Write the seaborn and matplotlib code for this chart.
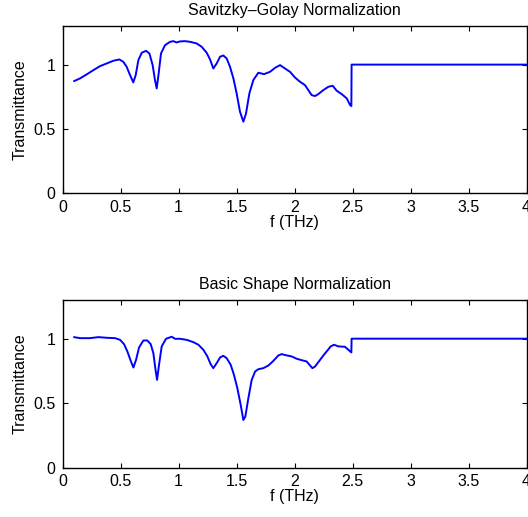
import numpy as np
import pandas as pd
import matplotlib
matplotlib.use("Agg")
import matplotlib.pyplot as plt
import seaborn as sns

# Savitzky-Golay normalized transmittance
sg_f = [0.099, 0.151, 0.208, 0.266, 0.323, 0.381, 0.438, 0.49, 0.524, 0.553, 0.582, 0.61,
        0.631, 0.654, 0.683, 0.72, 0.749, 0.777, 0.797, 0.812, 0.829, 0.849, 0.884, 0.927,
        0.955, 0.984, 1.013, 1.056, 1.099, 1.157, 1.2, 1.243, 1.272, 1.3, 1.329, 1.358,
        1.386, 1.415, 1.444, 1.473, 1.501, 1.53, 1.559, 1.582, 1.611, 1.645, 1.688, 1.737,
        1.789, 1.832, 1.875, 1.918, 1.961, 2.004, 2.047, 2.09, 2.119, 2.148, 2.177, 2.205,
        2.248, 2.292, 2.329, 2.364, 2.407, 2.45, 2.479, 2.49, 2.492, 3.0, 4.0]
sg_t = [0.872, 0.893, 0.924, 0.957, 0.988, 1.009, 1.03, 1.04, 1.022, 0.983, 0.919, 0.862,
        0.919, 1.035, 1.092, 1.107, 1.087, 0.996, 0.88, 0.815, 0.932, 1.087, 1.151, 1.177,
        1.182, 1.172, 1.18, 1.182, 1.177, 1.164, 1.138, 1.092, 1.04, 0.97, 1.009, 1.061,
        1.071, 1.048, 0.983, 0.893, 0.777, 0.634, 0.557, 0.621, 0.777, 0.88, 0.937, 0.926,
        0.944, 0.975, 0.996, 0.97, 0.944, 0.90, 0.867, 0.841, 0.802, 0.763, 0.756, 0.771,
        0.802, 0.828, 0.836, 0.797, 0.771, 0.738, 0.686, 0.678, 1.0, 1.0, 1.0]

# Basic shape normalized transmittance
bs_f = [0.099, 0.151, 0.237, 0.309, 0.381, 0.453, 0.496, 0.53, 0.559, 0.588, 0.611, 0.634,
        0.66, 0.697, 0.731, 0.76, 0.783, 0.8, 0.815, 0.832, 0.855, 0.892, 0.941, 0.97,
        1.013, 1.07, 1.128, 1.171, 1.214, 1.249, 1.277, 1.3, 1.329, 1.358, 1.386, 1.415,
        1.45, 1.478, 1.507, 1.536, 1.559, 1.576, 1.602, 1.631, 1.66, 1.688, 1.731, 1.775,
        1.818, 1.861, 1.889, 1.933, 1.976, 2.019, 2.062, 2.105, 2.134, 2.154, 2.177, 2.214,
        2.249, 2.277, 2.312, 2.34, 2.378, 2.435, 2.464, 2.49, 2.492, 3.0, 4.0]
bs_t = [1.012, 1.004, 1.004, 1.012, 1.007, 1.004, 0.991, 0.958, 0.901, 0.828, 0.776, 0.836,
        0.932, 0.986, 0.986, 0.958, 0.888, 0.771, 0.68, 0.797, 0.94, 0.999, 1.015, 0.999,
        0.999, 0.991, 0.973, 0.953, 0.914, 0.862, 0.802, 0.771, 0.81, 0.854, 0.867, 0.849,
        0.797, 0.719, 0.616, 0.486, 0.369, 0.395, 0.538, 0.68, 0.745, 0.763, 0.771, 0.792,
        0.828, 0.87, 0.88, 0.87, 0.862, 0.844, 0.833, 0.823, 0.792, 0.771, 0.784, 0.828,
        0.87, 0.901, 0.94, 0.953, 0.94, 0.937, 0.914, 0.893, 1.0, 1.0, 1.0]

titles = ["Savitzky\u2013Golay Normalization", "Basic Shape Normalization"]
xticks = [0, 0.5, 1, 1.5, 2, 2.5, 3, 3.5, 4]
xtick_labels = ["0", "0.5", "1", "1.5", "2", "2.5", "3", "3.5", "4"]
yticks = [0, 0.5, 1]
ytick_labels = ["0", "0.5", "1"]

sns.set_theme(style="white")
plt.rcParams['font.family'] = ['Liberation Sans', 'DejaVu Sans']
plt.rcParams['xtick.direction'] = 'in'
plt.rcParams['ytick.direction'] = 'in'
plt.rcParams['text.color'] = 'black'
plt.rcParams['axes.labelcolor'] = 'black'

fig = plt.figure(figsize=(5.28, 5.17), dpi=100)
ax1 = fig.add_axes([0.1184, 0.6258, 0.8788, 0.324])
ax2 = fig.add_axes([0.1184, 0.0957, 0.8788, 0.324])

for ax, f, t, title in [(ax1, sg_f, sg_t, titles[0]), (ax2, bs_f, bs_t, titles[1])]:
    df = pd.DataFrame({"f": f, "T": t})
    sns.lineplot(data=df, x="f", y="T", ax=ax, color="#0000ff", linewidth=1.4,
                 sort=False, estimator=None)
    ax.set_xlim(0, 4)
    ax.set_ylim(0, 1.3)
    ax.set_xticks(xticks)
    ax.set_xticklabels(xtick_labels)
    ax.set_yticks(yticks)
    ax.set_yticklabels(ytick_labels)
    ax.tick_params(axis='both', which='both', direction='in', length=3.5, width=0.8,
                   top=True, right=True, bottom=True, left=True, labelsize=11.5,
                   colors='black', pad=5)
    for s in ax.spines.values():
        s.set_visible(True)
        s.set_color('black')
        s.set_linewidth(1.0)
    ax.set_xlabel("f (THz)", fontsize=11.5, labelpad=0, color='black')
    ax.set_ylabel("Transmittance", fontsize=11.5, labelpad=4, color='black')
    ax.set_title(title, fontsize=11.5, pad=8, color='black')
    ax.grid(False)

fig.savefig("out.png", dpi=100)
